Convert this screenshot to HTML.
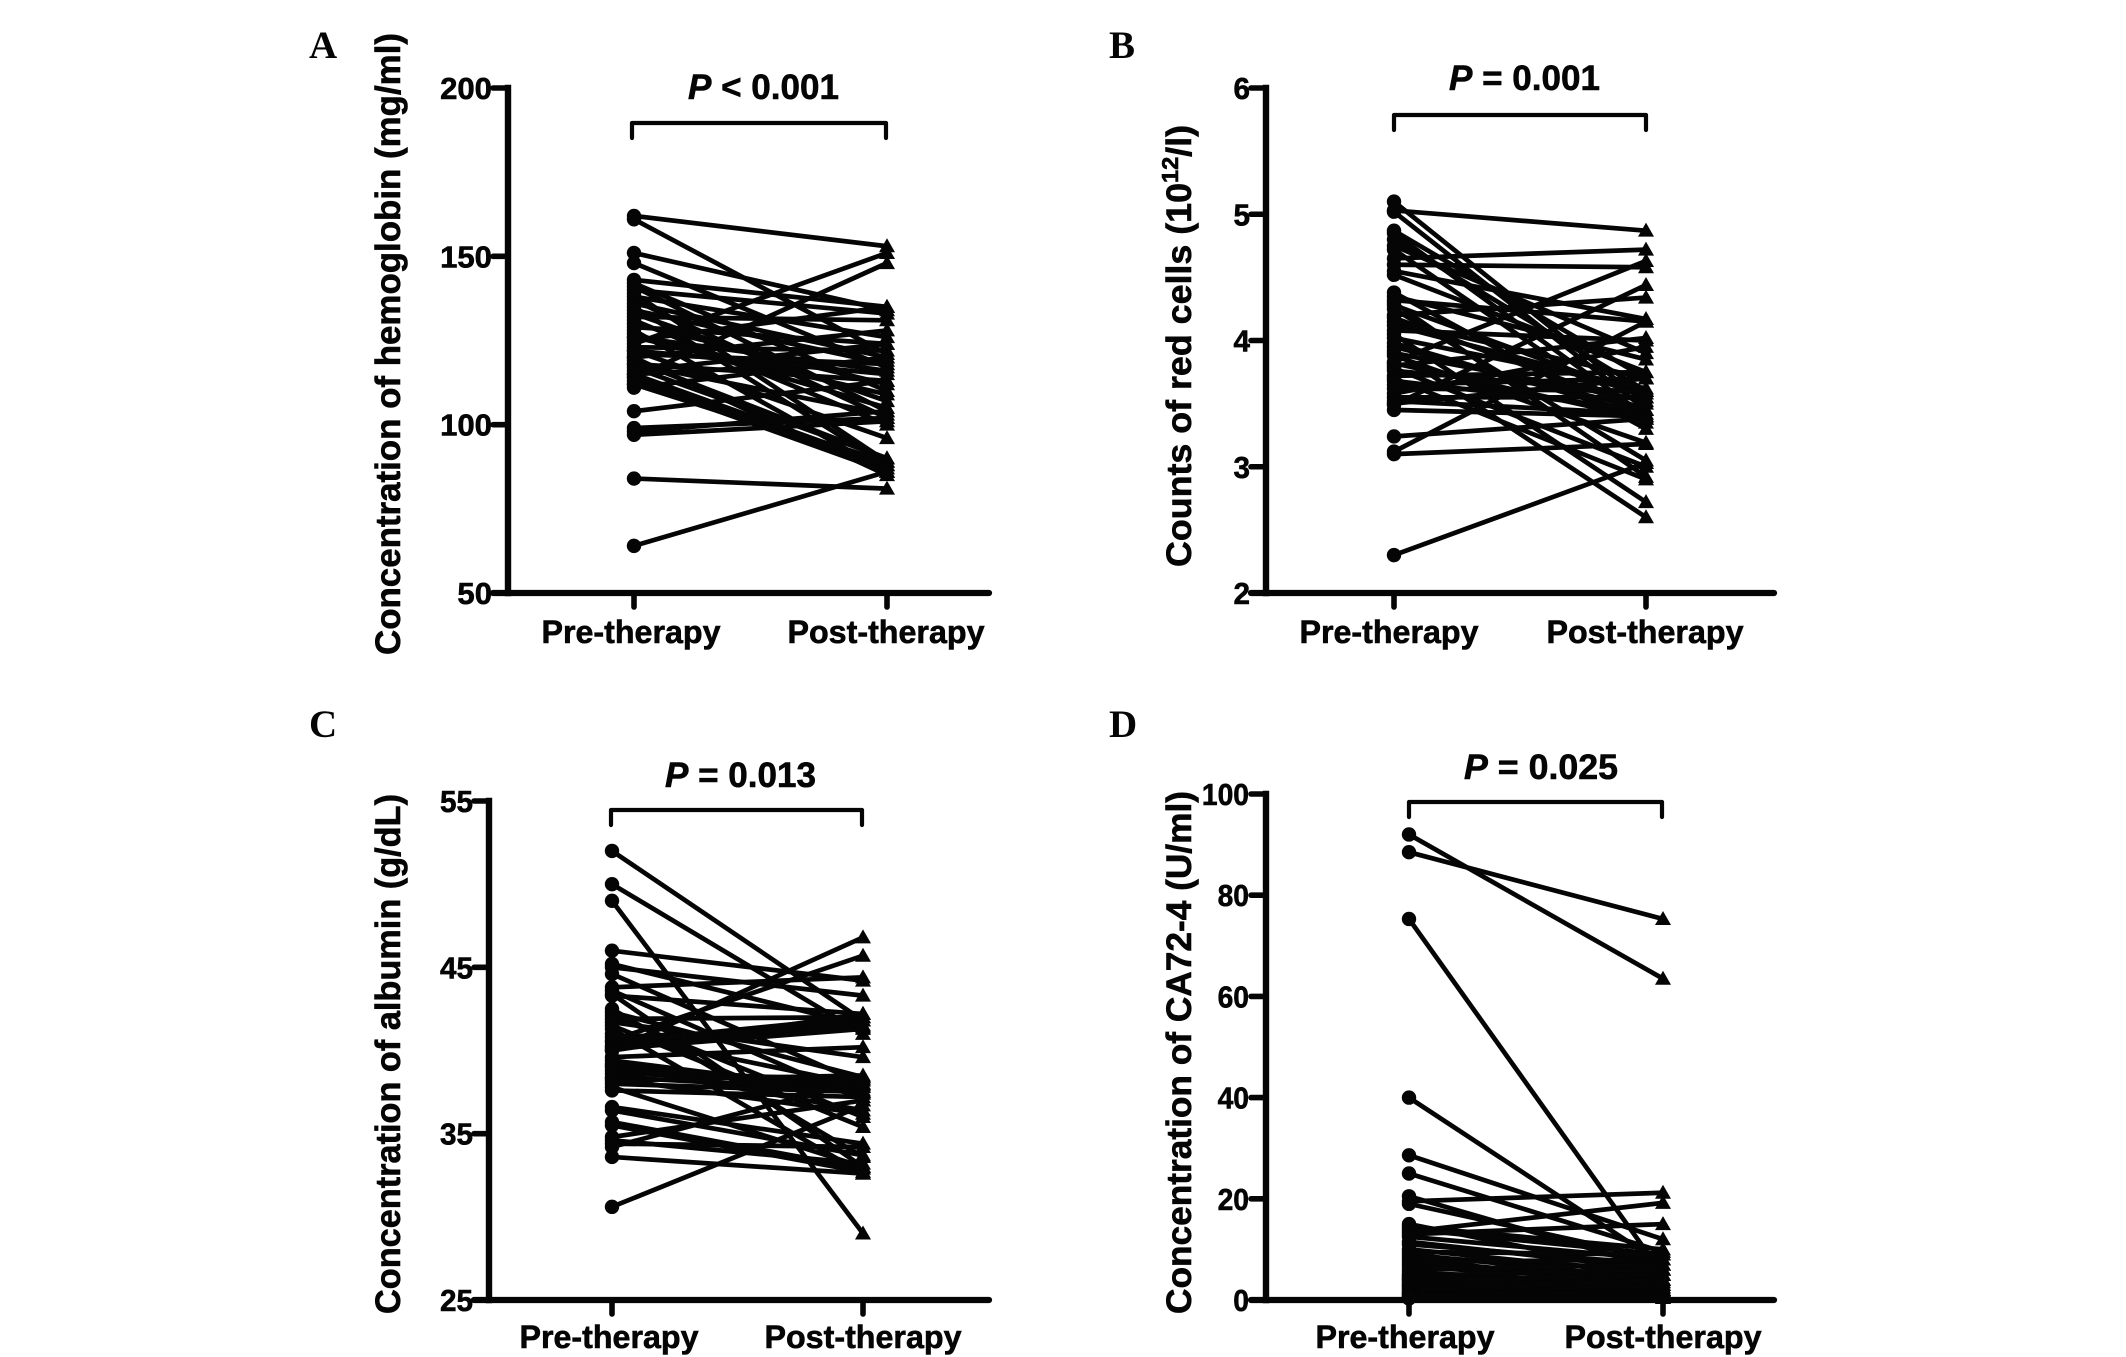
<!DOCTYPE html>
<html lang="en">
<head>
<meta charset="utf-8">
<title>Pre- and post-therapy paired measurements</title>
<style>
html,body{margin:0;padding:0;background:#fff;}
svg{display:block;}
text{font-family:"Liberation Sans",sans-serif;font-weight:bold;fill:#050505;stroke:#050505;stroke-width:0.6px;}
.letter{font-family:"Liberation Serif",serif;font-size:39px;stroke-width:0;}
.tick{font-size:31px;text-anchor:end;}
.cat{font-size:32px;text-anchor:middle;}
.ttl{font-size:35px;}
.ptxt{font-size:35px;}
</style>
</head>
<body>
<svg id="figure" xmlns="http://www.w3.org/2000/svg" width="2126" height="1357" viewBox="0 0 2126 1357">
<rect width="2126" height="1357" fill="#fff"/>
<g id="panel-a">
  <text class="letter" x="309" y="58">A</text>
  <text class="ttl" transform="translate(400,655) rotate(-90)" textLength="622" lengthAdjust="spacingAndGlyphs">Concentration of hemoglobin (mg/ml)</text>
  <text class="ptxt" x="688" y="99" textLength="151" lengthAdjust="spacingAndGlyphs"><tspan font-style="italic">P</tspan> &lt; 0.001</text>
</g>
<g id="panel-b">
  <text class="letter" x="1109" y="58">B</text>
  <text class="ttl" transform="translate(1191,567) rotate(-90)" textLength="442" lengthAdjust="spacingAndGlyphs">Counts of red cells (10<tspan font-size="23" dy="-13">12</tspan><tspan dy="13">/l)</tspan></text>
  <text class="ptxt" x="1449" y="90" textLength="151" lengthAdjust="spacingAndGlyphs"><tspan font-style="italic">P</tspan> = 0.001</text>
</g>
<g id="panel-c">
  <text class="letter" x="309" y="737">C</text>
  <text class="ttl" transform="translate(400,1314) rotate(-90)" textLength="520" lengthAdjust="spacingAndGlyphs">Concentration of albumin (g/dL)</text>
  <text class="ptxt" x="665" y="787" textLength="151" lengthAdjust="spacingAndGlyphs"><tspan font-style="italic">P</tspan> = 0.013</text>
</g>
<g id="panel-d">
  <text class="letter" x="1109" y="737">D</text>
  <text class="ttl" transform="translate(1191,1314) rotate(-90)" textLength="523" lengthAdjust="spacingAndGlyphs">Concentration of CA72-4 (U/ml)</text>
  <text class="ptxt" x="1464" y="779" textLength="154" lengthAdjust="spacingAndGlyphs"><tspan font-style="italic">P</tspan> = 0.025</text>
</g>
</svg>
<script>
const categories = ["Pre-therapy", "Post-therapy"];

const hemoglobinTicks = [50, 100, 150, 200];
const hemoglobinPre = [162,161,151,148,143,142,141,140,139,138,137,136,135,134,133,132,131,130,129,128,127,126,125,124,123,122,121,120,120,119,118,118,117,116,115,115,114,114,113,112,112,111,104,99,98,97,84,64,122,126];
const hemoglobinPost = [153,121,134,117,135,110,104,133,89,126,102,120,88,118,107,131,100,112,124,86,105,116,135,151,122,96,118,85,128,90,103,113,90,124,88,119,148,87,86,89,88,120,113,102,104,101,81,86,115,109];

const redCellTicks = [2, 3, 4, 5, 6];
const redCellPre = [5.10,5.03,5.02,4.87,4.85,4.80,4.75,4.72,4.65,4.60,4.55,4.52,4.38,4.35,4.32,4.30,4.28,4.25,4.20,4.18,4.15,4.12,4.08,4.05,4.02,3.98,3.95,3.92,3.90,3.88,3.83,3.82,3.80,3.78,3.76,3.72,3.70,3.68,3.65,3.62,3.58,3.55,3.52,3.50,3.49,3.45,3.24,3.12,3.10,2.30];
const redCellPost = [3.50,4.87,3.45,3.70,3.40,3.60,3.90,3.35,4.72,4.58,4.17,3.75,3.30,3.85,4.15,2.92,3.55,3.05,4.34,3.45,3.70,3.60,4.00,2.72,3.62,3.40,3.45,2.60,3.52,3.19,4.63,3.38,4.02,3.00,3.58,3.75,2.90,3.45,3.70,3.60,3.95,3.55,3.42,3.70,4.44,3.40,3.38,4.15,3.18,3.03];

const albuminTicks = [25, 35, 45, 55];
const albuminPre = [52,50,49,46,45.2,45,44.6,43.8,43.6,43.4,43.3,42.5,42.3,42.1,41.9,41.7,41.5,41.3,40.8,40.6,40.5,40.3,40.2,40.1,40,40,39.4,39.2,39,38.8,38.6,38.4,38.2,38,37.8,37.6,36.6,36.4,35.7,35.5,34.8,34.6,34.4,34.2,33.6,30.6,39.6,39.1,38.3,41];
const albuminPost = [41.8,41,29,44.2,41.5,43.3,38,44.4,37,33,42.2,33.6,38.4,36,42,39.6,35.4,32.6,41.4,45.7,42,41.5,41.8,41.3,42.2,46.8,37.5,37.4,38,37.8,38.3,37.6,38.5,37.5,33,37.2,34.4,33.7,32.9,32.7,37,33.2,34.2,38.2,32.6,36.7,40.2,36.4,36.2,37.9];

const ca724Ticks = [0, 20, 40, 60, 80, 100];
const ca724Pre = [92,88.5,75.3,40,28.6,25,20.5,19.5,19,15,14.5,14,13.5,13,12.5,11.5,11,10,9.5,9,8.5,8,7.5,7,6.5,6,5.5,5,4.8,4.5,4.2,4,3.8,3.5,3.2,3,2.8,2.5,2.3,2,1.8,1.5,1.3,1.2,1,0.8,0.6,0.5,0.4,0.3];
const ca724Post = [63.5,75.3,5,7,12,9.5,6,21.2,8,5,10,9,19.2,15,8,6,7,5,9,4,6,3,8,5,4,7,3,2.5,6,4,2,3,5,2,1.5,3.5,1.2,2.5,1,2,4,1,1.8,0.8,1.5,0.6,1,0.5,2,0.4];

const SVGNS = "http://www.w3.org/2000/svg";
function mk(parent, tag, attrs) {
  const el = document.createElementNS(SVGNS, tag);
  for (const k in attrs) el.setAttribute(k, attrs[k]);
  parent.appendChild(el);
  return el;
}

const layouts = [
  {key:"a", ticks:hemoglobinTicks, pre:hemoglobinPre, post:hemoglobinPost, ax:508, top:88, bottom:593, end:989, x0:634, x1:887, catX:[631,886], catY:643, labelRight:492, digitW:17.3, brY:123, brDrop:15, brX:[632,886]},
  {key:"b", ticks:redCellTicks, pre:redCellPre, post:redCellPost, ax:1266, top:88, bottom:593, end:1774, x0:1394, x1:1646, catX:[1389,1645], catY:643, labelRight:1250, digitW:16.5, brY:115, brDrop:15, brX:[1394,1646]},
  {key:"c", ticks:albuminTicks, pre:albuminPre, post:albuminPost, ax:489, top:801, bottom:1300, end:989, x0:612, x1:863, catX:[609,863], catY:1348, labelRight:473, digitW:16.5, brY:810, brDrop:15, brX:[611,862]},
  {key:"d", ticks:ca724Ticks, pre:ca724Pre, post:ca724Post, ax:1266, top:794, bottom:1300, end:1774, x0:1409, x1:1663, catX:[1405,1663], catY:1348, labelRight:1249, digitW:15.7, brY:802, brDrop:15, brX:[1409,1662]}
];

layouts.forEach(function (p) {
  const g = document.getElementById("panel-" + p.key);
  const lo = p.ticks[0], hi = p.ticks[p.ticks.length - 1];
  const yScale = function (v) { return p.bottom - (v - lo) / (hi - lo) * (p.bottom - p.top); };
  const xScale = function (i) { return i === 0 ? p.x0 : p.x1; };
  const ink = "#050505";

  // paired lines
  p.pre.forEach(function (v, i) {
    const line = mk(g, "line", {x1:xScale(0), y1:yScale(v), x2:xScale(1), y2:yScale(p.post[i]), stroke:ink, "stroke-width":4.7});
    
    
  });
  // pre markers
  p.pre.forEach(function (v) {
    const c = mk(g, "circle", {cx:xScale(0), cy:yScale(v), r:7.2, fill:ink});
    
    
  });
  // post markers
  p.post.forEach(function (v) {
    const x = xScale(1), y = yScale(v);
    const t = mk(g, "polygon", {points:(x-8)+","+(y+6)+" "+(x+8)+","+(y+6)+" "+x+","+(y-8), fill:ink});
    
    
  });

  // axes
  const yAxis = mk(g, "line", {x1:p.ax, y1:p.top, x2:p.ax, y2:p.bottom, stroke:ink, "stroke-width":6.4, "stroke-linecap":"square"});
  
  
  const xAxis = mk(g, "line", {x1:p.ax - 15, y1:p.bottom, x2:p.end, y2:p.bottom, stroke:ink, "stroke-width":6.2, "stroke-linecap":"round"});
  
  

  // y ticks
  p.ticks.forEach(function (v) {
    const y = yScale(v);
    const tk = mk(g, "line", {x1:p.ax - 15, y1:y, x2:p.ax, y2:y, stroke:ink, "stroke-width":5.6, "stroke-linecap":"round"});
    
    
    const label = String(v);
    const lb = mk(g, "text", {class:"tick", x:p.labelRight, y:y + 11, textLength:label.length * p.digitW, lengthAdjust:"spacingAndGlyphs"});
    lb.textContent = label;
    
    
  });

  // x ticks and labels
  categories.forEach(function (name, i) {
    const x = xScale(i);
    const tk = mk(g, "line", {x1:x, y1:p.bottom, x2:x, y2:p.bottom + 14, stroke:ink, "stroke-width":5.6, "stroke-linecap":"round"});
    
    
    const lb = mk(g, "text", {class:"cat", x:p.catX[i], y:p.catY, textLength:i === 0 ? 179 : 197, lengthAdjust:"spacingAndGlyphs"});
    lb.textContent = name;
    
    
  });

  // significance bracket
  const br = mk(g, "path", {d:"M"+p.brX[0]+" "+(p.brY+p.brDrop)+"V"+p.brY+"H"+p.brX[1]+"V"+(p.brY+p.brDrop), fill:"none", stroke:ink, "stroke-width":4.2, "stroke-linecap":"round", "stroke-linejoin":"round"});
  
  
});
</script>
</body>
</html>
